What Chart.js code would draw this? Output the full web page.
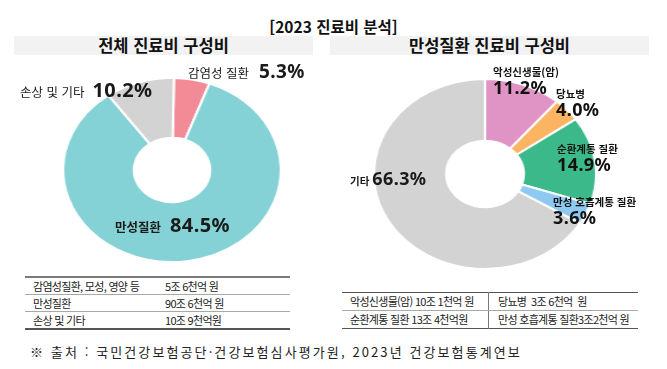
<!DOCTYPE html>
<html lang="ko">
<head>
<meta charset="utf-8">
<title>2023 진료비 분석</title>
<script src="https://cdn.jsdelivr.net/npm/chart.js@4.4.1/dist/chart.umd.min.js"></script>
<style>
    html, body {
        margin: 0;
        padding: 0;
        background: #fff;
    }
    #page {
        position: relative;
        width: 667px;
        height: 369px;
        overflow: hidden;
        font-family: "Noto Sans CJK KR", "Noto Sans", sans-serif;
        color: #111;
    }
    .abs { position: absolute; white-space: nowrap; }
    #title {
        left: 0; width: 667px; top: 16px;
        text-align: center;
        font-size: 15.5px; font-weight: 700; line-height: 20px;
    }
    .head {
        top: 36px; height: 19px;
        background: #f2f2f2;
        text-align: center;
        font-size: 16.5px; font-weight: 700; line-height: 19px;
    }
    .wrap { position: absolute; }
    .lbl { display: flex; align-items: baseline; color: #1a1a1a; }
    .lbl .name { font-size: 12.5px; }
    .lbl .pct { font-family: "Noto Sans", sans-serif; font-weight: 700; font-size: 19px; letter-spacing: 0.4px; }
    .stack .name { font-size: 10.5px; font-weight: 700; line-height: 13px; }
    .stack .pct { font-family: "Noto Sans", sans-serif; font-weight: 700; font-size: 18px; line-height: 18px; letter-spacing: 0.4px; }
    .tbl { position: absolute; font-size: 11px; letter-spacing: -0.7px; color: #222; }
    .row { position: relative; }
    .row span { position: absolute; top: 0; white-space: pre; }
    #footer {
        left: 30px; top: 343px;
        font-size: 13px; letter-spacing: 2.1px; line-height: 18px; color: #222;
    }
</style>
</head>
<body>
<div id="page">
    <div id="title" class="abs">[2023 진료비 분석]</div>
    <div class="abs head" style="left:14px; width:299px;">전체 진료비 구성비</div>
    <div class="abs head" style="left:330px; width:319px;">만성질환 진료비 구성비</div>

    <div class="wrap" style="left:79px; top:77px; width:186px; height:186px; transform:scaleX(1.183);">
        <canvas id="total-chart"></canvas>
    </div>
    <div class="wrap" style="left:389px; top:78px; width:192px; height:192px; transform:scaleX(1.17);">
        <canvas id="chronic-chart"></canvas>
    </div>

    <div id="labels"></div>
    <div id="tables"></div>

    <div id="footer" class="abs">※ 출처 : 국민건강보험공단·건강보험심사평가원, 2023년 건강보험통계연보</div>
</div>

<script>
    "use strict";

    // 전체 진료비 구성비 (%)
    var totalLabels = ["감염성 질환", "만성질환", "손상 및 기타"];
    var totalShares = [5.3, 84.5, 10.2];
    var totalColors = ["#f38b97", "#84d2d5", "#d3d3d3"];

    // 만성질환 진료비 구성비 (%)
    var chronicLabels = ["악성신생물(암)", "당뇨병", "순환계통 질환", "만성 호흡계통 질환", "기타"];
    var chronicShares = [11.2, 4.0, 14.9, 3.6, 66.3];
    var chronicColors = ["#df94c5", "#fbb461", "#3cb98b", "#8dc9f0", "#d3d3d3"];

    // 금액 표
    var totalTableNames = ["감염성질환, 모성, 영양 등", "만성질환", "손상 및 기타"];
    var totalTableCosts = ["5조 6천억 원", "90조 6천억 원", "10조 9천억원"];
    var chronicTableCells = [
        ["악성신생물(암) 10조 1천억 원", "당뇨병  3조 6천억  원"],
        ["순환계통 질환 13조 4천억원", "만성 호흡계통 질환3조2천억 원"]
    ];

    function pct(v) {
        return v.toFixed(1) + "%";
    }

    function donut(id, labels, values, colors, rotation) {
        var ctx = document.getElementById(id).getContext("2d");
        return new Chart(ctx, {
            type: "doughnut",
            data: {
                labels: labels,
                datasets: [{
                    data: values,
                    backgroundColor: colors,
                    borderColor: "#ffffff",
                    borderWidth: 2
                }]
            },
            options: {
                responsive: true,
                maintainAspectRatio: false,
                animation: false,
                cutout: "35%",
                rotation: rotation,
                layout: { padding: 0 },
                plugins: {
                    legend: { display: false },
                    tooltip: { enabled: false }
                }
            }
        });
    }

    donut("total-chart", totalLabels, totalShares, totalColors, 1);
    donut("chronic-chart", chronicLabels, chronicShares, chronicColors, 0);

    // Labels (left, top, gap before percent)
    var labelBox = document.getElementById("labels");
    var totalPos = [[188, 58, 10], [115, 211, 9], [20, 76, 8]];
    totalLabels.forEach(function (name, i) {
        var p = totalPos[i];
        var el = document.createElement("div");
        el.className = "abs lbl";
        el.style.left = p[0] + "px";
        el.style.top = p[1] + "px";
        el.innerHTML = '<span class="name"' + (i === 1 ? ' style="font-weight:700"' : '') + '>' + name +
            '</span><span class="pct" style="margin-left:' + p[2] + 'px' +
            (i > 0 ? ';font-size:20px' : '') + '">' + pct(totalShares[i]) + '</span>';
        labelBox.appendChild(el);
    });

    var chronicPos = [[493, 65], [556, 87], [557, 142], [553, 195]];
    chronicLabels.forEach(function (name, i) {
        var el = document.createElement("div");
        if (i < 4) {
            var p = chronicPos[i];
            el.className = "abs stack";
            el.style.left = p[0] + "px";
            el.style.top = p[1] + "px";
            el.innerHTML = '<div class="name">' + name + '</div><div class="pct">' + pct(chronicShares[i]) + '</div>';
        } else {
            el.className = "abs lbl";
            el.style.left = "350px";
            el.style.top = "166px";
            el.innerHTML = '<span class="name" style="font-weight:700;font-size:10.5px">' + name +
                '</span><span class="pct" style="margin-left:3px;font-size:18px">' + pct(chronicShares[i]) + '</span>';
        }
        labelBox.appendChild(el);
    });

    // Tables
    var tableBox = document.getElementById("tables");
    var t1 = document.createElement("div");
    t1.className = "tbl";
    t1.style.cssText = "left:25px; top:276px; width:265px; border-top:2px solid #7a7a7a; border-bottom:2px solid #555;";
    totalTableNames.forEach(function (name, i) {
        var r = document.createElement("div");
        r.className = "row";
        r.style.height = "16px";
        r.style.lineHeight = "16px";
        if (i < 2) r.style.borderBottom = "1px solid #a8a8a8";
        r.innerHTML = '<span style="left:8px">' + name + '</span><span style="left:140px">' + totalTableCosts[i] + '</span>';
        t1.appendChild(r);
    });
    tableBox.appendChild(t1);

    var t2 = document.createElement("div");
    t2.className = "tbl";
    t2.style.cssText = "left:342px; top:292px; width:296px; border-top:1px solid #555; border-bottom:1px solid #555;";
    chronicTableCells.forEach(function (cells, i) {
        var r = document.createElement("div");
        r.className = "row";
        r.style.height = "17px";
        r.style.lineHeight = "17px";
        if (i === 0) r.style.borderBottom = "1px solid #a8a8a8";
        r.innerHTML = '<span style="left:8px">' + cells[0] + '</span>' +
            '<span style="left:146px;top:' + (i === 0 ? -1 : 0) + 'px;height:18px;border-left:1px solid #777"></span>' +
            '<span style="left:156px">' + cells[1] + '</span>';
        t2.appendChild(r);
    });
    tableBox.appendChild(t2);
</script>
</body>
</html>
